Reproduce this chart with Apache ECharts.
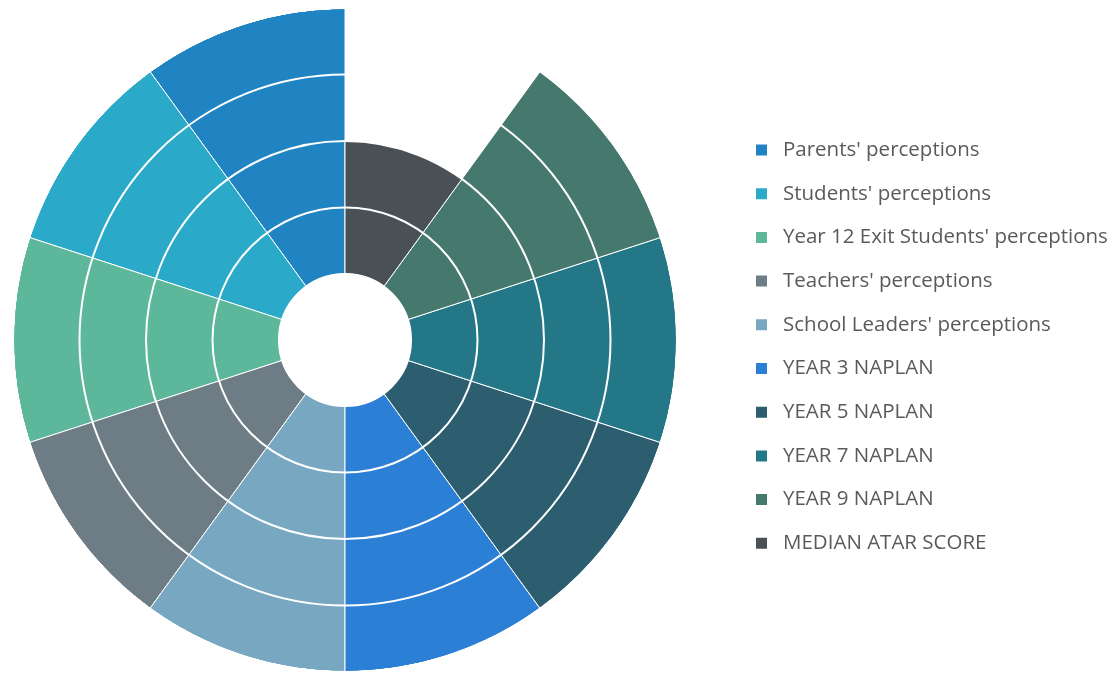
<!DOCTYPE html>
<html>
<head>
<meta charset="utf-8">
<script src="https://cdn.jsdelivr.net/npm/echarts@6/dist/echarts.min.js"></script>
<style>
html,body{margin:0;padding:0;background:#fff;}
#c{width:1113px;height:675px;}
</style>
</head>
<body>
<div id="c"></div>
<script>
const categories = [
  "Parents' perceptions",
  "Students' perceptions",
  "Year 12 Exit Students' perceptions",
  "Teachers' perceptions",
  "School Leaders' perceptions",
  "YEAR 3 NAPLAN",
  "YEAR 5 NAPLAN",
  "YEAR 7 NAPLAN",
  "YEAR 9 NAPLAN",
  "MEDIAN ATAR SCORE"
];
const levels = [4, 4, 4, 4, 4, 4, 4, 4, 4, 2];
const colors = ['#1f84c1', '#2aa9c9', '#5db89b', '#6e7c86', '#78a8c1', '#2b7fd5', '#2c5e6f', '#247787', '#46796e', '#4a5156'];

const chart = echarts.init(document.getElementById('c'));
const series = categories.map((name, i) => ({
  name: name,
  type: 'bar',
  coordinateSystem: 'polar',
  stack: 'all',
  barCategoryGap: '0%',
  data: categories.map((_, j) => (j === i ? levels[i] : 0)),
  itemStyle: { color: colors[i], borderColor: '#ffffff', borderWidth: 1 },
  emphasis: { disabled: true },
  silent: true,
  z: 2
}));

chart.setOption({
  animation: false,
  color: colors,
  polar: { center: [345, 340], radius: [66, 332] },
  angleAxis: {
    type: 'category',
    data: categories,
    startAngle: 90,
    clockwise: false,
    axisLine: { show: false },
    axisTick: { show: false },
    axisLabel: { show: false },
    splitLine: { show: false }
  },
  radiusAxis: {
    type: 'value',
    min: 0,
    max: 4,
    interval: 1,
    z: 10,
    axisLine: { show: false },
    axisTick: { show: false },
    axisLabel: { show: false },
    splitLine: { show: true, lineStyle: { color: '#ffffff', width: 2 } }
  },
  legend: {
    orient: 'vertical',
    left: 754,
    top: 139,
    padding: 0,
    itemWidth: 13,
    itemHeight: 13,
    itemGap: 21.7,
    icon: 'rect',
    selectedMode: false,
    textStyle: { fontFamily: 'Open Sans', fontSize: 20.5, color: '#5a5a5a', lineHeight: 22, padding: [0, 0, 0, 10] },
    data: categories
  },
  series: series
});
</script>
</body>
</html>
